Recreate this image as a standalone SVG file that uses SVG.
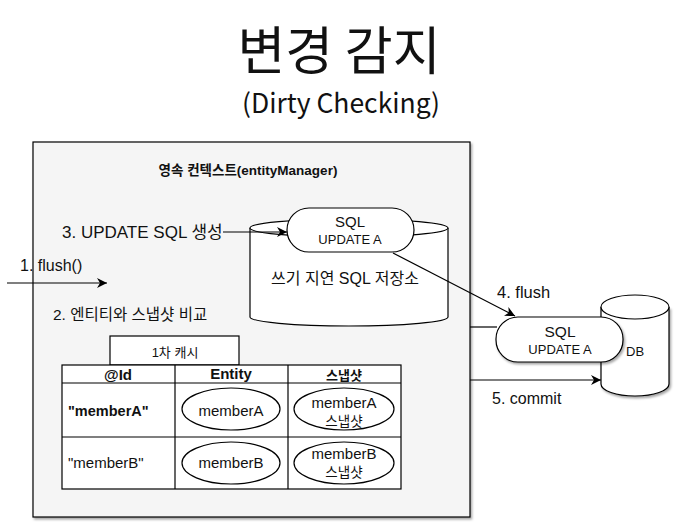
<svg xmlns="http://www.w3.org/2000/svg" width="680" height="528" viewBox="0 0 680 528">
<style>
text{font-family:"Liberation Sans","Noto Sans CJK KR",sans-serif;fill:#111}
.k{font-family:"Noto Sans CJK KR","Liberation Sans",sans-serif}
.s{fill:#fff;stroke:#000;stroke-width:1.2}
.ln{fill:none;stroke:#000;stroke-width:1.2}
.b{font-weight:bold}
</style>
<defs>
<marker id="ah" viewBox="0 0 10 10" refX="10" refY="5" markerWidth="10" markerHeight="10" markerUnits="userSpaceOnUse" orient="auto"><path d="M0,0 L10,5 L0,10 L3,5 Z" fill="#000"/></marker>
<filter id="sh" x="-10%" y="-10%" width="120%" height="130%"><feDropShadow dx="1.5" dy="2" stdDeviation="1" flood-color="#000" flood-opacity="0.35"/></filter>
</defs>
<rect width="680" height="528" fill="#fff"/>
<g id="title">
<text class="k" x="339" y="70" font-size="52" text-anchor="middle" fill="#000">변경 감지</text>
<text class="k" x="341" y="113" font-size="26.5" text-anchor="middle">(Dirty Checking)</text>
</g>
<g id="persistence-context">
<rect x="33" y="142" width="437" height="375" fill="#f5f5f5" stroke="#000" stroke-width="1.2" filter="url(#sh)"/>
<text class="b" x="248" y="175" font-size="13.5" text-anchor="middle">영속 컨텍스트(entityManager)</text>
</g>
<g id="write-behind-store">
<path class="s" d="M250,228 L250,317 A99,9 0 0 0 448,317 L448,228"/>
<ellipse class="s" cx="349" cy="228" rx="99" ry="9"/>
<text x="345" y="284" font-size="16" text-anchor="middle">쓰기 지연 SQL 저장소</text>
</g>
<g id="sql-inner">
<rect class="s" x="287" y="208" width="127" height="44" rx="22"/>
<text x="350" y="227" font-size="15" text-anchor="middle">SQL</text>
<text x="350" y="244" font-size="13" text-anchor="middle">UPDATE A</text>
</g>
<g id="labels">
<text x="62" y="238" font-size="17">3. UPDATE SQL 생성</text>
<text x="20" y="271" font-size="16">1. flush()</text>
<text x="53" y="320" font-size="15.5">2. 엔티티와 스냅샷 비교</text>
<text x="497" y="298" font-size="16.5">4. flush</text>
<text x="492" y="404" font-size="16">5. commit</text>
</g>
<g id="first-level-cache">
<rect class="s" x="110" y="336" width="129" height="29"/>
<text x="175" y="357" font-size="13" text-anchor="middle">1차 캐시</text>
<rect class="s" x="62" y="365" width="339" height="124"/>
<line class="ln" x1="175" y1="365" x2="175" y2="489"/>
<line class="ln" x1="288" y1="365" x2="288" y2="489"/>
<line class="ln" x1="62" y1="383" x2="401" y2="383"/>
<line class="ln" x1="62" y1="437" x2="401" y2="437"/>
<text class="b" x="118" y="380" font-size="15" text-anchor="middle">@Id</text>
<text class="b" x="231" y="379" font-size="15" text-anchor="middle">Entity</text>
<text class="b" x="344" y="380" font-size="13" text-anchor="middle">스냅샷</text>
<text class="b" x="68" y="416" font-size="14.5">"memberA"</text>
<text x="68" y="468" font-size="15">"memberB"</text>
<ellipse class="s" cx="231" cy="409" rx="49" ry="21"/>
<text x="231" y="416" font-size="15" text-anchor="middle">memberA</text>
<ellipse class="s" cx="344" cy="409" rx="50" ry="21"/>
<text x="344" y="408" font-size="15" text-anchor="middle">memberA</text>
<text x="344" y="426" font-size="13.5" text-anchor="middle">스냅샷</text>
<ellipse class="s" cx="231" cy="463" rx="49" ry="21"/>
<text x="231" y="468" font-size="15" text-anchor="middle">memberB</text>
<ellipse class="s" cx="344" cy="463" rx="50" ry="21"/>
<text x="344" y="459" font-size="15" text-anchor="middle">memberB</text>
<text x="344" y="477" font-size="13.5" text-anchor="middle">스냅샷</text>
</g>
<g id="db">
<path class="s" d="M601,307 L601,384 A34,12 0 0 0 669,384 L669,307" filter="url(#sh)"/>
<ellipse class="s" cx="635" cy="307" rx="34" ry="12"/>
<text x="626" y="356" font-size="13">DB</text>
</g>
<g id="connectors">
<line class="ln" x1="223" y1="232" x2="287" y2="232" marker-end="url(#ah)"/>
<line class="ln" x1="7" y1="283" x2="107" y2="283" marker-end="url(#ah)"/>
<line class="ln" x1="393" y1="253" x2="515" y2="316" marker-end="url(#ah)"/>
<line class="ln" x1="470" y1="327" x2="497" y2="327"/>
<line class="ln" x1="470" y1="380" x2="601" y2="380" marker-end="url(#ah)"/>
</g>
<g id="sql-outer">
<rect class="s" x="496" y="317" width="127" height="45" rx="22" filter="url(#sh)"/>
<text x="560" y="337" font-size="15.5" text-anchor="middle">SQL</text>
<text x="560" y="354" font-size="13" text-anchor="middle">UPDATE A</text>
</g>
</svg>
